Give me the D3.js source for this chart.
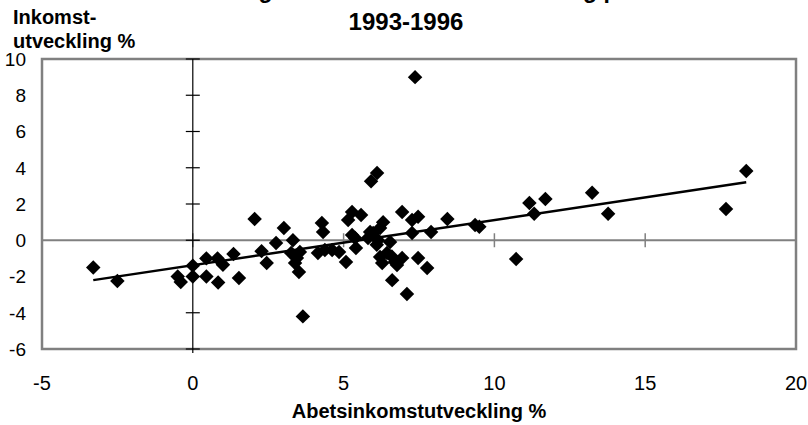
<!DOCTYPE html>
<html>
<head>
<meta charset="utf-8">
<script src="https://cdnjs.cloudflare.com/ajax/libs/d3/7.8.5/d3.min.js"></script>
<style>
  body { margin: 0; background: #fff; }
  svg { font-family: "Liberation Sans", Arial, sans-serif; }
</style>
</head>
<body>
<svg id="chart"></svg>
<script>
// arbetsinkomstutveckling (x) och inkomstutveckling (y), avlästa punkter
const arbetsinkomst = [-3.3, -2.5, -0.5, -0.4, 0.0, 0.0, 0.45, 0.45, 0.82, 1.0, 0.84, 1.35, 1.53,
  2.05, 2.28, 2.45, 2.76, 3.02, 3.32, 3.26, 3.45, 3.55, 3.39, 3.52, 3.65, 4.15, 4.28, 4.32, 4.38,
  4.62, 4.85, 5.08, 5.15, 5.28, 5.58, 5.28, 5.38, 5.41, 5.81, 5.88, 5.91, 6.11, 6.14, 6.21, 6.28,
  6.31, 6.21, 5.98, 6.54, 6.44, 6.7, 6.94, 7.47, 7.77, 6.61, 7.1, 6.94, 7.47, 7.27, 8.44, 7.9,
  7.27, 9.36, 9.5, 7.37, 10.72, 11.16, 11.69, 11.32, 13.24, 13.77, 17.68, 18.35, 6.6, 6.1, 6.77];
const inkomst = [-1.5, -2.25, -2.0, -2.3, -1.4, -2.0, -1.0, -2.0, -1.0, -1.35, -2.33, -0.76, -2.08,
  1.17, -0.6, -1.25, -0.15, 0.68, 0.0, -0.7, -0.98, -0.65, -1.25, -1.75, -4.2, -0.7, 0.95, 0.45, -0.54,
  -0.54, -0.65, -1.2, 1.12, 1.56, 1.39, 0.29, 0.12, -0.43, 0.12, 0.45, 3.25, 3.71, 0.0, -0.92, -1.25,
  1.0, 0.67, 0.4, -0.1, -0.7, -1.2, -0.98, -0.98, -1.53, -2.2, -2.96, 1.56, 1.29, 1.12, 1.17, 0.45,
  0.4, 0.84, 0.75, 9.0, -1.04, 2.06, 2.28, 1.46, 2.62, 1.46, 1.72, 3.82, -0.9, -0.25, -1.36];

// trendlinje, ändpunkter avlästa
const trendX = [-3.3, 18.35];
const trendY = [-2.2, 3.2];

const xTicks = [-5, 0, 5, 10, 15, 20];
const yTicks = [-6, -4, -2, 0, 2, 4, 6, 8, 10];

const width = 808, height = 425;
const plot = { left: 42, right: 796, top: 59, bottom: 349 };

const svg = d3.select("#chart").attr("width", width).attr("height", height);

const x = d3.scaleLinear().domain([-5, 20]).range([plot.left, plot.right]);
const y = d3.scaleLinear().domain([-6, 10]).range([plot.bottom, plot.top]);

// ram runt plotytan
svg.append("rect")
  .attr("x", plot.left).attr("y", plot.top)
  .attr("width", plot.right - plot.left).attr("height", plot.bottom - plot.top)
  .attr("fill", "#fff").attr("stroke", "#808080").attr("stroke-width", 2.5);

// x-axel vid y = 0 (grå, korsande tickar)
const xAxis = svg.append("g").attr("transform", `translate(0,${y(0)})`);
xAxis.append("line")
  .attr("x1", plot.left).attr("x2", plot.right)
  .attr("stroke", "#808080").attr("stroke-width", 2);
xAxis.selectAll("line.tick").data(xTicks).enter().append("line")
  .attr("class", "tick")
  .attr("x1", d => x(d)).attr("x2", d => x(d))
  .attr("y1", -7).attr("y2", 7)
  .attr("stroke", "#808080").attr("stroke-width", 1.5);

// y-axel vid x = 0 (svart)
const yAxis = svg.append("g").attr("transform", `translate(${x(0)},0)`);
yAxis.append("line")
  .attr("y1", plot.top).attr("y2", plot.bottom + 4)
  .attr("stroke", "#000").attr("stroke-width", 1.2);
yAxis.selectAll("line.tick").data(yTicks).enter().append("line")
  .attr("class", "tick")
  .attr("x1", -7).attr("x2", 7)
  .attr("y1", d => y(d)).attr("y2", d => y(d))
  .attr("stroke", "#000").attr("stroke-width", 1.2);

// tickettiketter
svg.append("g").selectAll("text").data(yTicks).enter().append("text")
  .attr("x", 26).attr("y", d => y(d))
  .attr("dy", "0.36em")
  .attr("text-anchor", "end")
  .attr("font-size", 19)
  .text(d => d);

svg.append("g").selectAll("text").data(xTicks).enter().append("text")
  .attr("x", d => x(d)).attr("y", 390)
  .attr("text-anchor", "middle")
  .attr("font-size", 20)
  .text(d => d);

// trendlinje
const points = arbetsinkomst.map((v, i) => ({ x: v, y: inkomst[i] }));
const trend = trendX.map((v, i) => [x(v), y(trendY[i])]);
svg.append("path")
  .attr("d", d3.line()(trend))
  .attr("fill", "none").attr("stroke", "#000").attr("stroke-width", 2.5);

// punkter (romber)
const diamond = d3.symbol().type(d3.symbolSquare).size(105);
svg.append("g").selectAll("path").data(points).enter().append("path")
  .attr("d", diamond)
  .attr("transform", d => `translate(${x(d.x)},${y(d.y)}) rotate(45)`)
  .attr("fill", "#000");

// rubriker
svg.append("text")
  .attr("x", 406).attr("y", -2)
  .attr("text-anchor", "middle")
  .attr("font-size", 23).attr("font-weight", "bold")
  .text("Inkomstutveckling och arbetsinkomstutveckling per kommun");
svg.append("text")
  .attr("x", 406).attr("y", 30)
  .attr("text-anchor", "middle")
  .attr("font-size", 24).attr("font-weight", "bold")
  .text("1993-1996");

svg.append("text")
  .attr("x", 13).attr("y", 24)
  .attr("font-size", 20).attr("font-weight", "bold")
  .text("Inkomst-");
svg.append("text")
  .attr("x", 13).attr("y", 48)
  .attr("font-size", 20).attr("font-weight", "bold")
  .text("utveckling %");

svg.append("text")
  .attr("x", 419).attr("y", 418)
  .attr("text-anchor", "middle")
  .attr("font-size", 20).attr("font-weight", "bold")
  .text("Abetsinkomstutveckling %");
</script>
</body>
</html>
